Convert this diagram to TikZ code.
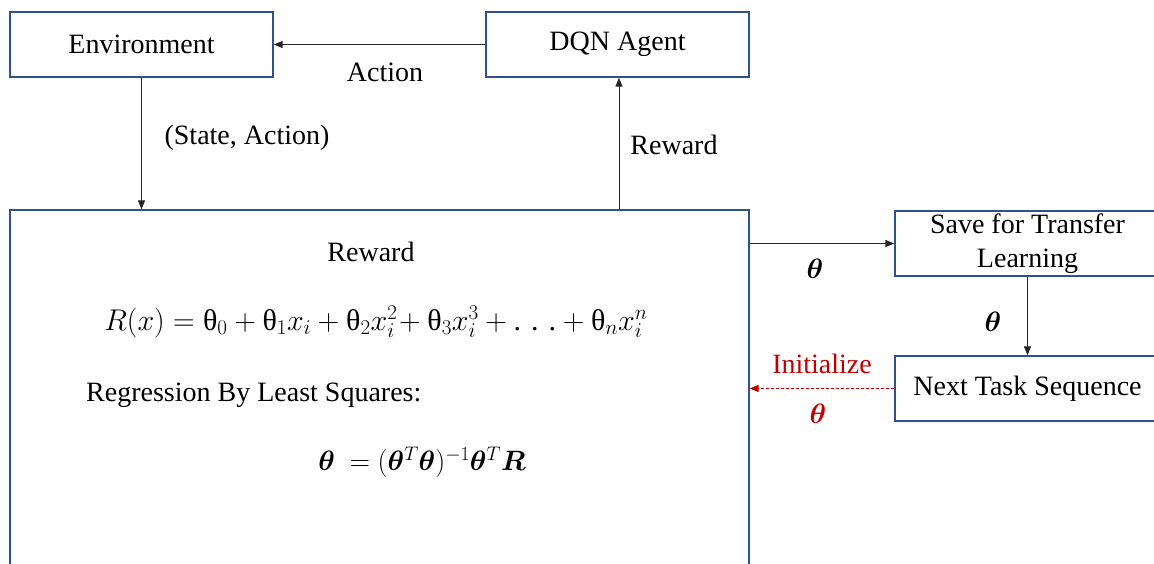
\RequirePackage{fix-cm}
\documentclass[tikz,border=0pt]{standalone}
\usepackage{amsmath,bm}
\usepackage{fontspec}
\setmainfont{Liberation Serif}
\usetikzlibrary{arrows.meta}
\definecolor{boxblue}{RGB}{47,82,143}
\definecolor{initred}{RGB}{192,0,0}
\begin{document}
\begin{tikzpicture}[x=1pt,y=-1pt,
  font=\fontsize{28}{32}\selectfont,
  box/.style={draw=boxblue,line width=1.3pt,minimum height=65pt,inner sep=0pt,align=center},
  arr/.style={draw=black!85,line width=0.9pt,-{Triangle[length=9pt,width=7pt]}},
  dasharr/.style={draw=initred,line width=0.9pt,dash pattern=on 3pt off 2pt,-{Triangle[length=9pt,width=7pt]}},
  lbl/.style={inner sep=0pt}]
\useasboundingbox (0,0) rectangle (1154,563);
\clip (0,0) rectangle (1154,563);
\node[box,minimum width=263pt] (env) at (141.5,44.5) {Environment};
\node[box,minimum width=263pt] (dqn) at (617.5,44.5) {DQN Agent};
\node[box,minimum width=739pt,minimum height=420pt] (big) at (379.5,420) {};
\node[box,minimum width=265pt,font=\fontsize{28}{34}\selectfont] (save) at (1027.5,243.5) {Save for Transfer\\Learning};
\node[box,minimum width=265pt] (next) at (1027.5,388.5) {Next Task Sequence};

\draw[arr] (dqn.west) -- (env.east);
\draw[arr] (env.south) -- (env.south |- big.north);
\path (dqn.south) ++(1.5,0) coordinate (rt);
\coordinate (rb) at (big.north -| rt);
\draw[arr] (rb) -- (rt);
\draw[arr] (save.west -| big.east) -- (save.west);
\draw[arr] (save.south) -- (next.north);
\draw[dasharr] (next.west) -- (next.west -| big.east);

\node[lbl] (lact) at (385,72) {Action};
\node[lbl] (lsa) at (247,138) {(State, Action)};
\node[lbl] (lrew) at (674,145) {Reward};
\node[lbl] (rewt) at (371,252) {Reward};
\node[lbl,font=\fontsize{30}{34}\selectfont] (eq1) at (376,322) {$R(x) = \text{θ}_0 + \text{θ}_1 x_i + \text{θ}_2 x_i^2\!+ \text{θ}_3 x_i^3 + \text{. . .} + \text{θ}_n x_i^n$};
\node[lbl,anchor=west] (reg) at (86,395) {Regression By Least Squares:};
\node[lbl] (eq2) at (422,462) {$\bm{\theta}\ = (\bm{\theta}^{T}\bm{\theta})^{-1}\bm{\theta}^{T}\bm{R}$};
\node[lbl] (th1) at (815,269) {$\bm{\theta}$};
\node[lbl] (th2) at (993,322) {$\bm{\theta}$};
\node[lbl,text=initred] (init) at (822,364) {Initialize};
\node[lbl,text=initred] (th3) at (818,414) {$\bm{\theta}$};
\end{tikzpicture}
\end{document}
